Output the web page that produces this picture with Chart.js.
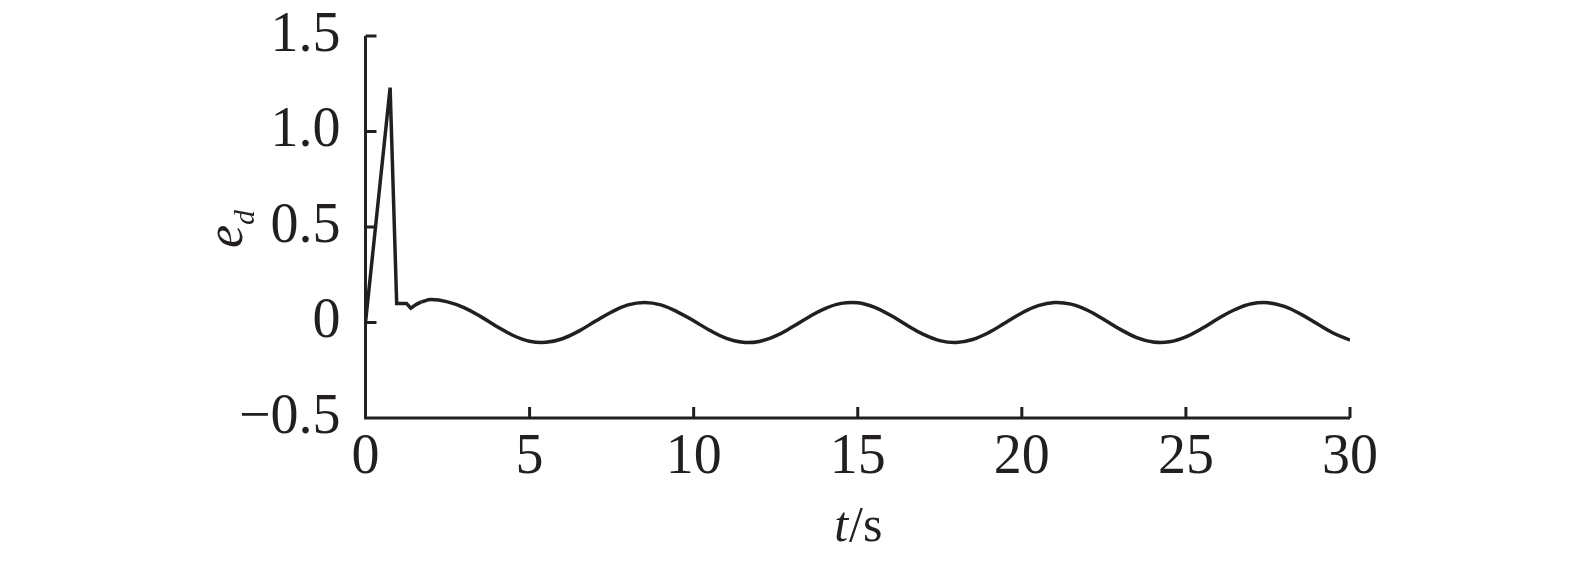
<!DOCTYPE html>
<html>
<head>
<meta charset="utf-8">
<script src="https://cdn.jsdelivr.net/npm/chart.js@4.4.1/dist/chart.umd.min.js"></script>
<style>
  html, body { margin: 0; padding: 0; background: #ffffff; }
  #wrap { width: 1575px; height: 566px; }
</style>
</head>
<body>
<div id="wrap"><canvas id="chartErr" width="1575" height="566"></canvas></div>
<script>
// ── Data ─────────────────────────────────────────────
// initial transient (straight segments)
const spikeT = [0, 0.75, 0.95, 1.25, 1.38, 1.55, 1.7];
const spikeE = [0, 1.23, 0.10, 0.10, 0.075, 0.095, 0.108];

// steady oscillation (smooth)
const waveT = [1.7, 2.0, 2.5, 3.0, 3.5, 4.0, 4.5, 5.0, 5.5, 6.0, 6.5, 7.0, 7.5, 8.0, 8.5, 9.0, 9.5,
  10, 10.5, 11, 11.5, 12, 12.5, 13, 13.5, 14, 14.5, 15, 15.5, 16, 16.5, 17, 17.5, 18, 18.5, 19, 19.5,
  20, 20.5, 21, 21.5, 22, 22.5, 23, 23.5, 24, 24.5, 25, 25.5, 26, 26.5, 27, 27.5, 28, 28.5, 29, 29.5, 30];
const waveE = [0.108, 0.12, 0.108, 0.078, 0.032, -0.021, -0.068, -0.098, -0.104, -0.085, -0.045, 0.006, 0.055, 0.092, 0.105, 0.092, 0.056,
  0.009, -0.042, -0.083, -0.104, -0.099, -0.070, -0.024, 0.028, 0.073, 0.100, 0.103, 0.080, 0.038, -0.014, -0.062, -0.095, -0.105, -0.089, -0.052, -0.001,
  0.050, 0.088, 0.105, 0.096, 0.064, 0.016, -0.036, -0.079, -0.102, -0.101, -0.075, -0.030, 0.022, 0.068, 0.098, 0.104, 0.084, 0.044, -0.007, -0.056, -0.092];

const xTickValues = [0, 5, 10, 15, 20, 25, 30];
const xTickLabels = ["0", "5", "10", "15", "20", "25", "30"];
const yTickValues = [-0.5, 0, 0.5, 1.0, 1.5];
const yTickLabels = ["\u22120.5", "0", "0.5", "1.0", "1.5"];

// ── Style ─────────────────────────────────────────────
const INK   = "#231f20";
const SERIF = "'Liberation Serif', 'Times New Roman', serif";
const TICK_FONT = 56;
const TICK_LEN  = 11;

const toXY = (ts, es) => ts.map((t, i) => ({ x: t, y: es[i] }));

// axis lines, inward ticks and the two axis titles
const axesPlugin = {
  id: "axesPlugin",
  afterDatasetsDraw(chart) {
    const { ctx, chartArea: a, scales: { x, y } } = chart;
    ctx.save();
    ctx.strokeStyle = INK;
    ctx.lineWidth = 3;
    ctx.lineCap = "butt";

    ctx.beginPath();
    ctx.moveTo(a.left, a.top);
    ctx.lineTo(a.left, a.bottom);
    ctx.lineTo(a.right, a.bottom);
    ctx.stroke();

    ctx.beginPath();
    xTickValues.forEach(v => {
      if (v === xTickValues[0]) return;
      const px = x.getPixelForValue(v);
      ctx.moveTo(px, a.bottom);
      ctx.lineTo(px, a.bottom - TICK_LEN);
    });
    yTickValues.forEach(v => {
      if (v === yTickValues[0]) return;
      const py = y.getPixelForValue(v);
      ctx.moveTo(a.left, py);
      ctx.lineTo(a.left + TICK_LEN, py);
    });
    ctx.stroke();

    // x title: italic t, upright /s
    ctx.fillStyle = INK;
    ctx.textBaseline = "alphabetic";
    ctx.textAlign = "left";
    const fIt = "italic 50px " + SERIF;
    const fUp = "50px " + SERIF;
    ctx.font = fIt;
    const wT = ctx.measureText("t").width;
    ctx.font = fUp;
    const wS = ctx.measureText("/s").width;
    const cx = (a.left + a.right) / 2;
    const sx = cx - (wT + wS) / 2;
    ctx.font = fIt;
    ctx.fillText("t", sx, 541);
    ctx.font = fUp;
    ctx.fillText("/s", sx + wT + 1, 541);

    // y title: e with subscript d, rotated
    ctx.translate(242, 248);
    ctx.rotate(-Math.PI / 2);
    ctx.font = "italic 52px " + SERIF;
    ctx.fillText("e", 0, 0);
    const wE = ctx.measureText("e").width;
    ctx.font = "italic 30px " + SERIF;
    ctx.fillText("d", wE, 12);
    ctx.restore();
  },
};

new Chart(document.getElementById("chartErr"), {
  type: "line",
  data: {
    datasets: [
      {
        data: toXY(spikeT, spikeE),
        borderColor: INK, borderWidth: 3.5, pointRadius: 0, tension: 0,
        borderJoinStyle: "miter",
      },
      {
        data: toXY(waveT, waveE),
        borderColor: INK, borderWidth: 3.5, pointRadius: 0, tension: 0.4,
      },
    ],
  },
  options: {
    responsive: false,
    animation: false,
    events: [],
    layout: { padding: { left: 0, right: 225, top: 36, bottom: 0 } },
    plugins: { legend: { display: false }, tooltip: { enabled: false } },
    scales: {
      x: {
        type: "linear", min: 0, max: 30,
        grid: { display: false, drawTicks: false },
        border: { display: false },
        afterBuildTicks: s => { s.ticks = xTickValues.map(v => ({ value: v })); },
        afterFit: s => { s.height = 566 - 418; s.paddingLeft = 0; s.paddingRight = 0; },
        ticks: {
          color: INK, padding: 7, maxRotation: 0, autoSkip: false,
          font: { family: SERIF, size: TICK_FONT },
          callback: v => xTickLabels[xTickValues.indexOf(v)],
        },
      },
      y: {
        type: "linear", min: -0.5, max: 1.5,
        grid: { display: false, drawTicks: false },
        border: { display: false },
        afterBuildTicks: s => { s.ticks = yTickValues.map(v => ({ value: v })); },
        afterFit: s => { s.width = 365.5; s.paddingTop = 0; s.paddingBottom = 0; },
        ticks: {
          color: INK, padding: 25, autoSkip: false,
          font: { family: SERIF, size: TICK_FONT },
          callback: v => yTickLabels[yTickValues.indexOf(v)],
        },
      },
    },
  },
  plugins: [axesPlugin],
});
</script>
</body>
</html>
